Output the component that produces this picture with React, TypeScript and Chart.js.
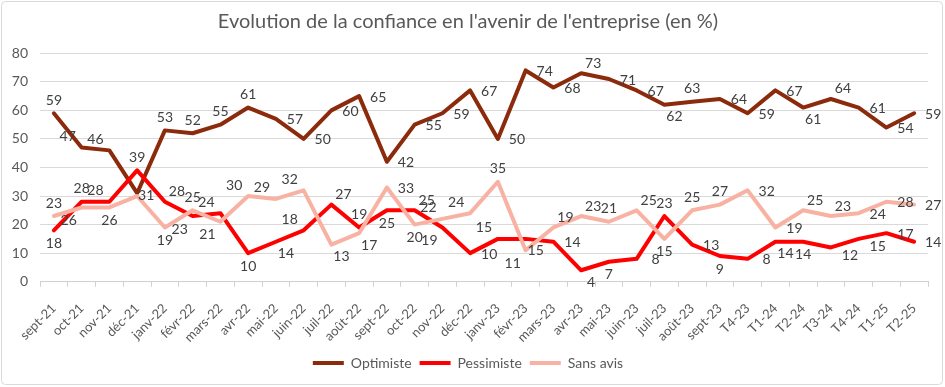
import React, { useEffect, useRef } from "react";
import { Chart, registerables } from "chart.js";

Chart.register(...registerables);

const categories = [
  "sept-21", "oct-21", "nov-21", "déc-21", "janv-22", "févr-22", "mars-22", "avr-22",
  "mai-22", "juin-22", "juil-22", "août-22", "sept-22", "oct-22", "nov-22", "déc-22",
  "janv-23", "févr-23", "mars-23", "avr-23", "mai-23", "juin-23", "juil-23", "août-23",
  "sept-23", "T4-23", "T1-24", "T2-24", "T3-24", "T4-24", "T1-25", "T2-25",
];

const optimiste = [59, 47, 46, 31, 53, 52, 55, 61, 57, 50, 60, 65, 42, 55, 59, 67, 50, 74, 68, 73, 71, 67, 62, 63, 64, 59, 67, 61, 64, 61, 54, 59];
const pessimiste = [18, 28, 28, 39, 28, 23, 24, 10, 14, 18, 27, 19, 25, 25, 19, 10, 15, 15, 14, 4, 7, 8, 23, 13, 9, 8, 14, 14, 12, 15, 17, 14];
const sansAvis = [23, 26, 26, 30, 19, 25, 21, 30, 29, 32, 13, 17, 33, 20, 22, 24, 35, 11, 19, 23, 21, 25, 15, 25, 27, 32, 19, 25, 23, 24, 28, 27];

const seriesNames = ["Optimiste", "Pessimiste", "Sans avis"];
const yTicks = [0, 10, 20, 30, 40, 50, 60, 70, 80];

// label placement (style only): r=right, a=above, b=below, l=left, combos
const optPlace = ["a", "al", "al", "rc", "a", "a", "a", "a", "r", "r", "r", "r", "r", "r", "r", "r", "r", "r", "r", "ar", "r", "r", "br", "a", "r", "r", "r", "br", "ar", "r", "r", "r"];
const pessPlace = ["b", "a", "al", "a", "ar", "bl", "al", "b", "br", "al", "ar", "a", "b", "ar", "bl", "r", "al", "br", "r", "br", "b", "r", "a", "r", "b", "r", "br", "b", "rb", "rb", "r", "r"];
const sansPlace = ["a", "bl", "b", "", "b", "a", "bl", "al", "al", "al", "br", "br", "r", "b", "al", "al", "a", "bl", "ar", "ar", "a", "ar", "b", "a", "a", "r", "r", "ar", "ar", "r", "r", "r"];

const OFFSETS: Record<string, [number, number]> = {
  r: [19, 1],
  rc: [9, 2],
  l: [-19, 0],
  a: [0, -13],
  b: [0, 13],
  ar: [12, -10],
  al: [-14, -11],
  br: [10, 12],
  bl: [-13, 13],
  rb: [19, 8],
};

const FONT = "Lato, 'Open Sans', sans-serif";
const TEXT = "#595959";

export default function App() {
  const ref = useRef<HTMLCanvasElement | null>(null);

  useEffect(() => {
    if (!ref.current) return;
    const placements = [optPlace, pessPlace, sansPlace];

    const framePlugin = {
      id: "frame",
      beforeDraw(chart: any) {
        const c = chart.ctx;
        c.save();
        c.fillStyle = "#ffffff";
        c.fillRect(0, 0, chart.width, chart.height);
        c.strokeStyle = "#d9d9d9";
        c.lineWidth = 1;
        c.beginPath();
        (c as any).roundRect ? (c as any).roundRect(1.5, 1.5, 941, 383, 4) : c.rect(1.5, 1.5, 941, 383);
        c.stroke();
        c.restore();
      },
    };

    const labelPlugin = {
      id: "pointLabels",
      afterDatasetsDraw(chart: any) {
        const c = chart.ctx;
        c.save();
        c.font = `14px ${FONT}`;
        c.fillStyle = "#404040";
        c.textAlign = "center";
        c.textBaseline = "middle";
        chart.data.datasets.forEach((ds: any, di: number) => {
          const meta = chart.getDatasetMeta(di);
          const place = placements[di];
          meta.data.forEach((pt: any, i: number) => {
            const code = place[i];
            if (!code) return;
            const [dx, dy] = OFFSETS[code];
            c.fillText(String(ds.data[i]), pt.x + dx, pt.y + dy);
          });
        });
        c.restore();
      },
    };

    const chart = new Chart(ref.current, {
      type: "line",
      data: {
        labels: categories,
        datasets: [
          { label: seriesNames[0], data: optimiste, borderColor: "#8c2a0c", backgroundColor: "#8c2a0c", borderWidth: 4, order: 3 },
          { label: seriesNames[1], data: pessimiste, borderColor: "#ff0000", backgroundColor: "#ff0000", borderWidth: 4, order: 2 },
          { label: seriesNames[2], data: sansAvis, borderColor: "#f8b2a3", backgroundColor: "#f8b2a3", borderWidth: 4, order: 1 },
        ],
      },
      options: {
        animation: false,
        responsive: false,
        maintainAspectRatio: false,
        layout: { padding: { left: 8, right: 17, top: 0, bottom: 7 } },
        elements: {
          point: { radius: 0, hoverRadius: 0 },
          line: { tension: 0, borderJoinStyle: "round", borderCapStyle: "round" },
        },
        scales: {
          x: {
            type: "category",
            offset: true,
            grid: {
              display: true,
              offset: true,
              drawOnChartArea: false,
              drawTicks: true,
              tickLength: 5,
              color: "#d0d0d0",
            },
            border: { display: true, color: "#d0d0d0", width: 1 },
            ticks: {
              autoSkip: false,
              minRotation: 45,
              maxRotation: 45,
              padding: 14,
              color: TEXT,
              font: { family: FONT, size: 13 },
            },
            afterFit: (s: any) => {
              s.height = 66.3;
            },
          },
          y: {
            min: 0,
            max: 80,
            afterBuildTicks: (s: any) => {
              s.ticks = yTicks.map((v) => ({ value: v }));
            },
            grid: { color: "#d9d9d9", drawTicks: false, lineWidth: 1 },
            border: { display: false },
            ticks: {
              padding: 12,
              color: TEXT,
              font: { family: FONT, size: 14 },
            },
            afterFit: (s: any) => {
              s.width = 32;
            },
          },
        },
        plugins: {
          title: {
            display: true,
            text: "Evolution de la confiance en l'avenir de l'entreprise (en %)",
            color: TEXT,
            font: { family: FONT, size: 20, weight: "normal", lineHeight: 1.2 },
            padding: { top: 10, bottom: 19.3 },
          },
          legend: {
            display: true,
            position: "bottom",
            labels: {
              usePointStyle: true,
              pointStyle: "line",
              pointStyleWidth: 31,
              boxHeight: 14,
              padding: 8,
              color: TEXT,
              font: { family: FONT, size: 14 },
              sort: (a: any, b: any) => a.datasetIndex - b.datasetIndex,
            },
          },
          tooltip: { enabled: false },
        },
      },
      plugins: [framePlugin, labelPlugin],
    } as any);

    return () => chart.destroy();
  }, []);

  return (
    <div style={{ position: "absolute", left: 0, top: 0, width: 945, height: 387 }}>
      <canvas ref={ref} width={945} height={387} style={{ display: "block", width: 945, height: 387 }} />
    </div>
  );
}
